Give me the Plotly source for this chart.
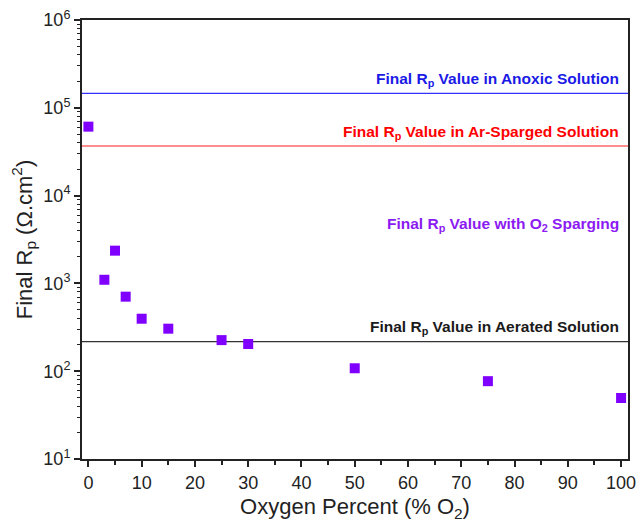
import plotly.graph_objects as go

# Oxygen sparging data: final polarization resistance vs O2 percent
oxygen_pct = [0, 3, 5, 7, 10, 15, 25, 30, 50, 75, 100]
final_rp = [61000, 1100, 2360, 706, 396, 305, 226, 204, 108, 77, 49.5]

# Reference levels (Ohm.cm^2)
rp_anoxic = 146000
rp_ar_sparged = 36700
rp_aerated = 217

y_tick_vals = [10, 100, 1000, 10000, 100000, 1000000]
y_tick_text = ["10<sup>1</sup>", "10<sup>2</sup>", "10<sup>3</sup>",
               "10<sup>4</sup>", "10<sup>5</sup>", "10<sup>6</sup>"]
y_minor_vals = [k * 10 ** n for n in range(1, 6) for k in range(2, 10)]

FONT = "Arial, Liberation Sans, sans-serif"
VIOLET = "#8000FF"

fig = go.Figure()

for level, color in [(rp_anoxic, "#3333FF"), (rp_ar_sparged, "#FF2020"), (rp_aerated, "#333333")]:
    fig.add_trace(go.Scatter(
        x=[-5, 110], y=[level, level], mode="lines",
        line=dict(color=color, width=1.2), hoverinfo="skip", showlegend=False,
    ))

fig.add_trace(go.Scatter(
    x=oxygen_pct, y=final_rp, mode="markers",
    marker=dict(symbol="square", size=10, color=VIOLET),
    showlegend=False, cliponaxis=False,
))

labels = [
    ("Final R<sub>p</sub> Value in Anoxic Solution", "#1A1AE6", 5.32),
    ("Final R<sub>p</sub> Value in Ar-Sparged Solution", "#FF0000", 4.72),
    ("Final R<sub>p</sub> Value with O<sub>2</sub> Sparging", "#8C1AF2", 3.67),
    ("Final R<sub>p</sub> Value in Aerated Solution", "#1A1A1A", 2.50),
]
for text, color, ylog in labels:
    fig.add_annotation(
        x=0.987, xref="paper", y=ylog, yref="y", text=f"<b>{text}</b>",
        showarrow=False, xanchor="right", yanchor="middle",
        font=dict(family=FONT, size=15.5, color=color),
    )

fig.update_layout(
    width=638, height=522,
    margin=dict(l=82, r=10, t=20, b=63),
    paper_bgcolor="white", plot_bgcolor="white",
    font=dict(family=FONT, color="#222222"),
)

fig.update_xaxes(
    range=[-1.2, 101.3], tickvals=list(range(0, 101, 10)),
    ticks="outside", ticklen=6, tickwidth=1.5, tickcolor="#222222",
    minor=dict(tickvals=list(range(5, 100, 10)), ticks="outside", ticklen=4,
               tickwidth=1.5, tickcolor="#222222"),
    showline=True, linewidth=2, linecolor="#222222", mirror=True,
    showgrid=False, zeroline=False, automargin=False,
    tickfont=dict(size=18, family=FONT),
    title=dict(text="Oxygen Percent (% O<sub>2</sub>)", font=dict(size=22, family=FONT), standoff=13),
)

fig.update_yaxes(
    type="log", range=[1, 6], tickvals=y_tick_vals, ticktext=y_tick_text,
    ticks="outside", ticklen=6, tickwidth=1.5, tickcolor="#222222",
    minor=dict(tickvals=y_minor_vals, ticks="outside", ticklen=3,
               tickwidth=1, tickcolor="#222222"),
    showline=True, linewidth=2, linecolor="#222222", mirror=True,
    showgrid=False, zeroline=False, automargin=False,
    tickfont=dict(size=18, family=FONT),
    title=dict(text="Final R<sub>p</sub> (Ω.cm<sup>2</sup>)", font=dict(size=22, family=FONT), standoff=5),
)

fig.write_html("out.html")
